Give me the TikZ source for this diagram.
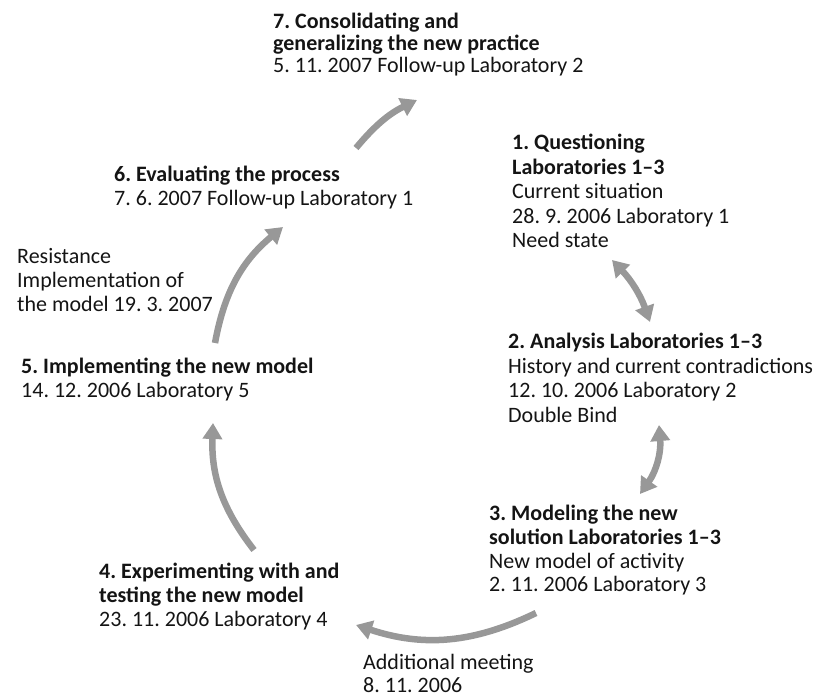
\documentclass[tikz,border=0pt]{standalone}
\usepackage{fontspec}
\setmainfont{Carlito}
\usetikzlibrary{arrows.meta}
\definecolor{arrgray}{RGB}{152,152,152}
\definecolor{txt}{RGB}{20,20,20}
\frenchspacing
\tikzset{
  lbl/.style={anchor=north west, inner sep=0pt, align=left, text=txt,
    font=\fontsize{22}{#1}\selectfont\frenchspacing},
  lbl/.default=24.5,
  cyc/.style={draw=arrgray, line width=6.5pt, -{Triangle[width=19pt,length=16pt]}},
  dbl/.style={draw=arrgray, line width=6.5pt, {Triangle[width=19pt,length=16pt]}-{Triangle[width=19pt,length=16pt]}}
}
\newcommand{\fl}{\rule{0pt}{18pt}}
\begin{document}
\begin{tikzpicture}[x=1pt,y=-1pt]
\useasboundingbox (0,0) rectangle (819,700);
% text blocks
\node[lbl=22] (s7) at (273,10) {\fl\textbf{7. Consolidating and}\\\textbf{generalizing the new practice}\\5. 11. 2007 Follow-up Laboratory 2};
\node[lbl] (s1) at (512,131.5) {\fl\textbf{1. Questioning}\\\textbf{Laboratories 1–3}\\Current situation\\28. 9. 2006 Laboratory 1\\Need state};
\node[lbl=24] (s6) at (114,163.5) {\fl\textbf{6. Evaluating the process}\\7. 6. 2007 Follow-up Laboratory 1};
\node[lbl=24] (res) at (17,245.5) {\fl Resistance\\Implementation of\\the model 19. 3. 2007};
\node[lbl] (s2) at (508,330.5) {\fl\textbf{2. Analysis Laboratories 1–3}\\History and current contradictions\\12. 10. 2006 Laboratory 2\\Double Bind};
\node[lbl=24] (s5) at (21,355.5) {\fl\textbf{5. Implementing the new model}\\14. 12. 2006 Laboratory 5};
\node[lbl=23.7] (s3) at (489,502.5) {\fl\textbf{3. Modeling the new}\\\textbf{solution Laboratories 1–3}\\New model of activity\\2. 11. 2006 Laboratory 3};
\node[lbl=24] (s4) at (99,560.5) {\fl\textbf{4. Experimenting with and}\\\textbf{testing the new model}\\23. 11. 2006 Laboratory 4};
\node[lbl=23] (add) at (363,651) {\fl Additional meeting\\8. 11. 2006};
% arrow end points
\coordinate (t67) at (356,148); \coordinate (h67) at (417,100);
\coordinate (t56) at (215,343); \coordinate (h56) at (283,227);
\coordinate (t45) at (254,550); \coordinate (h45) at (213,423);
\coordinate (t34) at (536,613); \coordinate (h34) at (356,625);
\coordinate (e1a) at (612,260); \coordinate (e1b) at (650,322);
\coordinate (e2a) at (659,425); \coordinate (e2b) at (640,494);
% arrows
\draw[cyc] (t67) to[bend left=12] (h67);
\draw[cyc] (t56) to[bend left=20] (h56);
\draw[cyc] (t45) to[bend left=20] (h45);
\draw[cyc] (t34) to[bend left=22] (h34);
\draw[dbl] (e1a) to[bend left=12] (e1b);
\draw[dbl] (e2a) to[bend left=20] (e2b);
\end{tikzpicture}
\end{document}
